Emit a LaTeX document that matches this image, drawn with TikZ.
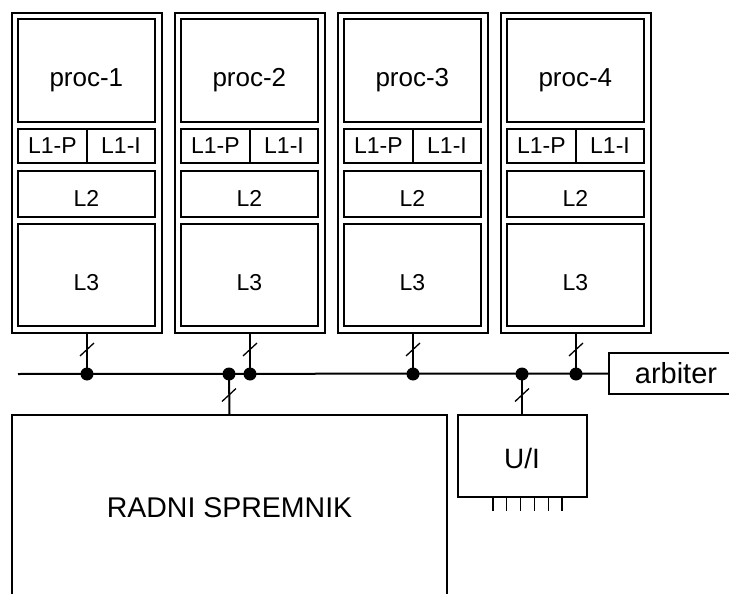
\documentclass[tikz,border=0pt]{standalone}
\usepackage{fontspec}
\setmainfont{Liberation Sans}
\usetikzlibrary{positioning}

\tikzset{
  blk/.style={draw,line width=2pt,inner sep=0pt,minimum width=137.3pt},
  cpu/.style={draw,line width=2pt,inner sep=0pt,minimum width=150.3pt,minimum height=320pt},
  lowtext/.style={text height=#1,text depth=0pt},
  wire/.style={line width=2pt},
  cut/.style={line width=1.3pt},
  junc/.style={circle,fill,inner sep=0pt,minimum size=13pt},
}

\begin{document}
\begin{tikzpicture}[x=1pt,y=-1pt]
\useasboundingbox (0,0) rectangle (729,594);
\clip (0,0) rectangle (729,594);

% processors with their caches
\foreach \i/\lx in {1/11.7,2/174.7,3/337.7,4/500.7}{
  \node[cpu] (col\i) at (\lx+75.3,173) {};
  \node[blk,minimum height=102.7pt,lowtext=32.6pt,font=\fontsize{26}{26}\selectfont] (proc\i) at (\lx+74.65,70.65) {proc-\i};
  \node[blk,minimum width=69.3pt,minimum height=34pt,font=\fontsize{23}{23}\selectfont] (lp\i) at (\lx+40.65,146) {L1-P};
  \node[blk,minimum width=68pt,minimum height=34pt,font=\fontsize{23}{23}\selectfont] (li\i) at (\lx+109.3,146) {L1-I};
  \node[blk,minimum height=46pt,lowtext=24.5pt,font=\fontsize{23}{23}\selectfont] (ltwo\i) at (\lx+74.65,194) {L2};
  \node[blk,minimum height=102pt,lowtext=31.5pt,font=\fontsize{23}{23}\selectfont] (lthree\i) at (\lx+74.65,275) {L3};
  \coordinate (b\i) at (\lx+75.3,374);
}

% memory, I/O and arbiter
\node[blk,minimum width=435pt,minimum height=186pt,font=\fontsize{28.5}{28.5}\selectfont] (mem) at (229.5,508) {RADNI SPREMNIK};
\node[blk,minimum width=129pt,minimum height=82pt,lowtext=24pt,font=\fontsize{28}{28}\selectfont] (io) at (522,456) {U/I};
\node[blk,minimum width=134pt,minimum height=41pt,font=\fontsize{29}{29}\selectfont] (arb) at (676,373.5) {arbiter};
\coordinate (bm) at (229,374);
\coordinate (bio) at (522,374);
\coordinate (bus0) at (18,374);

% bus
\draw[wire] (bus0) -- (arb.west);
\foreach \i in {1,...,4}{
  \draw[wire] (col\i.south) -- (b\i);
  \node[junc] (j\i) at (b\i) {};
  \draw[cut] (b\i) ++(-7,-18) -- ++(14,-13);
}
\draw[wire] (bm) -- (mem.north);
\draw[wire] (bio) -- (io.north);
\node[junc] (jm) at (bm) {};
\node[junc] (jio) at (bio) {};
\draw[cut] (bm) ++(-7,27.5) -- ++(14,-13);
\draw[cut] (bio) ++(-7,27.5) -- ++(14,-13);

% I/O pins
\foreach \k in {0,...,5}
  \draw[cut] ([xshift=\k*13.8pt-29pt]io.south) -- ++(0,13);
\end{tikzpicture}
\end{document}
